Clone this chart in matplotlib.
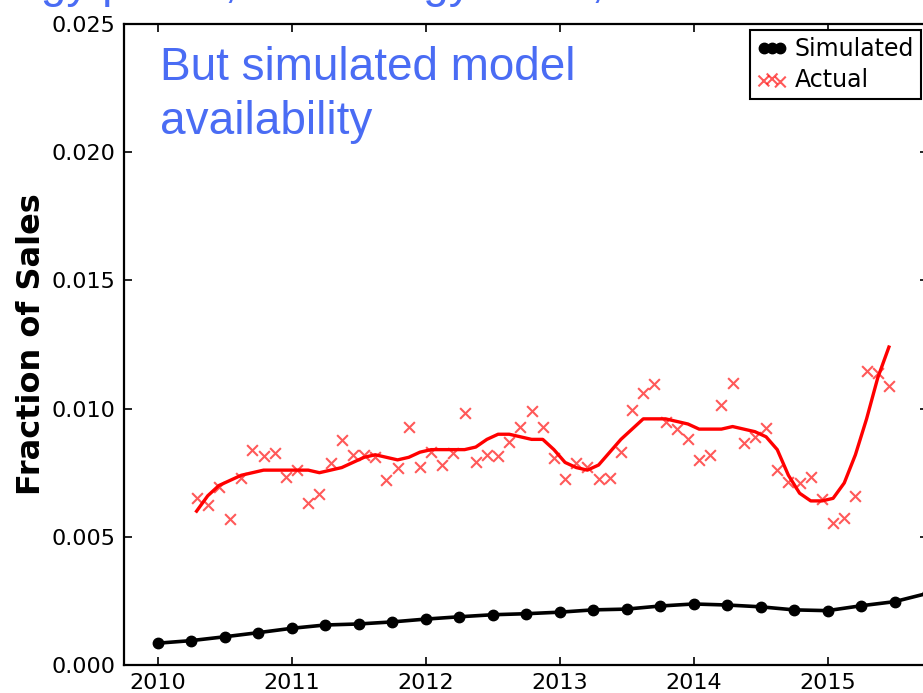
import numpy as np
import matplotlib.pyplot as plt

# simulated share, one point per quarter 2010.00 .. 2015.75
sim_years = 2010 + np.arange(24) * 0.25
sim_share = [0.00085, 0.00095, 0.00110, 0.00126, 0.00143, 0.00156, 0.00160, 0.00168,
             0.00179, 0.00188, 0.00196, 0.00200, 0.00206, 0.00215, 0.00218, 0.00230,
             0.00238, 0.00234, 0.00227, 0.00215, 0.00212, 0.00231, 0.00247, 0.00280]

# observed monthly share, mid-month positions
act_years = 2010 + (np.arange(3, 66) + 0.5) / 12
act_share = [0.00651, 0.00624, 0.00695, 0.00569, 0.00729, 0.00839, 0.00815, 0.00827,
             0.00733, 0.00761, 0.00632, 0.00667, 0.00788, 0.00878, 0.00819, 0.00819,
             0.00811, 0.00722, 0.00768, 0.00928, 0.00772, 0.00831, 0.00780, 0.00827,
             0.00983, 0.00792, 0.00819, 0.00815, 0.00870, 0.00928, 0.00991, 0.00928,
             0.00807, 0.00725, 0.00787, 0.00773, 0.00724, 0.00728, 0.00832, 0.00995,
             0.01060, 0.01096, 0.00949, 0.00919, 0.00880, 0.00800, 0.00819, 0.01014,
             0.01099, 0.00867, 0.00890, 0.00926, 0.00761, 0.00715, 0.00709, 0.00732,
             0.00646, 0.00555, 0.00572, 0.00659, 0.01148, 0.01140, 0.01088]
# smoothed trend of the observed share
act_trend = [0.0060, 0.0066, 0.0070, 0.0072, 0.0074, 0.0075, 0.0076, 0.0076,
             0.0076, 0.0076, 0.0076, 0.0075, 0.0076, 0.0077, 0.0079, 0.0081,
             0.0082, 0.0081, 0.0080, 0.0081, 0.0083, 0.0084, 0.0084, 0.0084,
             0.0084, 0.0085, 0.0088, 0.0090, 0.0090, 0.0089, 0.0088, 0.0088,
             0.0084, 0.0079, 0.0077, 0.0076, 0.0078, 0.0083, 0.0088, 0.0092,
             0.0096, 0.0096, 0.0096, 0.0095, 0.0094, 0.0092, 0.0092, 0.0092,
             0.0093, 0.0092, 0.0091, 0.0089, 0.0084, 0.0074, 0.0067, 0.0064,
             0.0064, 0.0065, 0.0071, 0.0082, 0.0096, 0.0112, 0.0124]

xticks = [2010, 2011, 2012, 2013, 2014, 2015]
yticks = [0.000, 0.005, 0.010, 0.015, 0.020, 0.025]

blue = '#4a6cf4'

fig = plt.figure(figsize=(9.23, 6.93), dpi=100)
ax = fig.add_axes([124 / 923, 28 / 693, 804 / 923, 641 / 693])

ax.plot(sim_years, sim_share, color='black', lw=2.6, marker='o', ms=7.5,
        label='Simulated', zorder=3)
ax.scatter(act_years, act_share, marker='x', s=60, color='red', alpha=0.65,
           linewidths=1.5, label='Actual', zorder=2)
ax.plot(act_years, act_trend, color='red', lw=2.4, zorder=2)

ax.set_xlim(2009.75, 2015.75)
ax.set_ylim(0, 0.025)
ax.set_xticks(xticks)
ax.set_yticks(yticks)
ax.set_xticklabels([str(t) for t in xticks])
ax.set_yticklabels(['%.3f' % t for t in yticks])
ax.tick_params(direction='in', length=6, width=1.2, top=True, right=True,
               labelsize=16, pad=6)
for s in ax.spines.values():
    s.set_linewidth(1.6)

ax.set_ylabel('Fraction of Sales', fontsize=23, fontweight='bold', labelpad=3)

leg = ax.legend(loc='upper right', bbox_to_anchor=(921 / 923, 1 - 30 / 693),
                bbox_transform=fig.transFigure, borderaxespad=0, fontsize=17,
                numpoints=3, scatterpoints=3, handlelength=1.3, handletextpad=0.3,
                borderpad=0.3, labelspacing=0.3, fancybox=False, framealpha=1)
leg.get_frame().set_edgecolor('black')
leg.get_frame().set_linewidth(1.5)

fig.text(160 / 923, 1 - 80 / 693, 'But simulated model', fontsize=33,
         family='Liberation Sans', color=blue, va='baseline')
fig.text(160 / 923, 1 - 134 / 693, 'availability', fontsize=33,
         family='Liberation Sans', color=blue, va='baseline')
fig.text(-56 / 923, 1 + 3 / 693, 'Energy prices, technology costs,', fontsize=33,
         family='Liberation Sans', color=blue, va='baseline')

fig.savefig('out.png', dpi=100)
